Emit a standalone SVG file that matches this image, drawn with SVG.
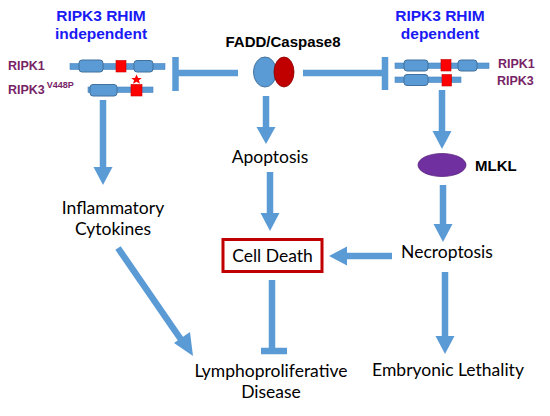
<svg xmlns="http://www.w3.org/2000/svg" width="550" height="416" viewBox="0 0 550 416">
<defs>
<style>
.title{font-family:"Liberation Sans",Arial,sans-serif;font-weight:bold;font-size:15.5px;fill:#1A1AF5;text-anchor:middle}
.plabel{font-family:"Liberation Sans",Arial,sans-serif;font-weight:bold;font-size:12.5px;fill:#772466}
.bold{font-family:"Liberation Sans",Arial,sans-serif;font-weight:bold;font-size:15px;fill:#000}
.body{font-family:Lato,"Open Sans",sans-serif;font-size:17.5px;fill:#000;text-anchor:middle}
.bar{fill:#5B9BD5;stroke:#4A86BE;stroke-width:0.6}
.dom{fill:#5B9BD5;stroke:#41719C;stroke-width:1}
.rhim{fill:#FF0000;stroke:#C00000;stroke-width:0.6}
.conn{stroke:#5B9BD5;stroke-width:6.5;fill:none}
.head{fill:#5B9BD5}
</style>
</defs>

<g id="title-independent">
<text class="title" x="101" y="21">RIPK3 RHIM</text>
<text class="title" x="101" y="38.5">independent</text>
</g>

<g id="title-dependent">
<text class="title" x="440" y="21">RIPK3 RHIM</text>
<text class="title" x="440" y="38.5">dependent</text>
</g>

<g id="proteins-independent">
<text class="plabel" x="8" y="70">RIPK1</text>
<text class="plabel" x="8" y="94">RIPK3<tspan font-size="9" dy="-6" dx="2">V448P</tspan></text>
<rect class="bar" x="70" y="63.5" width="95" height="6"/>
<rect class="dom" x="79" y="60" width="24" height="12" rx="3"/>
<rect class="rhim" x="116" y="60.5" width="10" height="11.5"/>
<rect class="dom" x="134" y="60.5" width="19" height="11.5" rx="3"/>
<rect class="bar" x="88" y="87" width="65" height="5.5"/>
<rect class="dom" x="90" y="84.5" width="27" height="11.5" rx="3"/>
<rect class="rhim" x="131" y="84.5" width="11" height="11.5"/>
<polygon fill="#FF0000" points="136.5,74.5 138.1,78 141.8,78 138.9,80.3 140,83.8 136.5,81.8 133,83.8 134.1,80.3 131.2,78 134.9,78"/>
</g>

<g id="proteins-dependent">
<rect class="bar" x="395" y="63" width="94" height="5.5"/>
<rect class="dom" x="404" y="60" width="24" height="11" rx="3"/>
<rect class="rhim" x="441" y="59.5" width="10" height="11.5"/>
<rect class="dom" x="458" y="60" width="19" height="11" rx="3"/>
<rect class="bar" x="395" y="77" width="66" height="5.5"/>
<rect class="dom" x="404" y="74.5" width="24" height="11" rx="3"/>
<rect class="rhim" x="442" y="74.5" width="9.5" height="11.5"/>
<text class="plabel" x="498" y="68">RIPK1</text>
<text class="plabel" x="497" y="85">RIPK3</text>
</g>

<g id="fadd-caspase8">
<text class="bold" x="283" y="47" text-anchor="middle">FADD/Caspase8</text>
<ellipse cx="265" cy="72" rx="11.5" ry="15" fill="#5B9BD5" stroke="#41719C" stroke-width="1"/>
<ellipse cx="284" cy="72" rx="10" ry="15" fill="#C00000" stroke="#8B0000" stroke-width="0.8"/>
</g>

<g id="mlkl">
<ellipse cx="442" cy="165" rx="24" ry="11.5" fill="#7030A0" stroke="#5A2680" stroke-width="0.8"/>
<text class="bold" x="475" y="171">MLKL</text>
</g>

<g id="apoptosis"><text class="body" x="270" y="163">Apoptosis</text></g>
<g id="inflammatory-cytokines">
<text class="body" x="113" y="214">Inflammatory</text>
<text class="body" x="113" y="235">Cytokines</text>
</g>
<g id="cell-death">
<rect x="223" y="239.5" width="99" height="32" fill="#fff" stroke="#C00000" stroke-width="3"/>
<text class="body" x="272.5" y="262">Cell Death</text>
</g>
<g id="necroptosis"><text class="body" x="447" y="258">Necroptosis</text></g>
<g id="lymphoproliferative-disease">
<text class="body" x="271" y="377">Lymphoproliferative</text>
<text class="body" x="271" y="398">Disease</text>
</g>
<g id="embryonic-lethality"><text class="body" x="448" y="376">Embryonic Lethality</text></g>

<g id="connectors">
<line class="conn" x1="238" y1="73" x2="177" y2="73"/>
<line class="conn" x1="175.5" y1="57" x2="175.5" y2="91"/>
<line class="conn" x1="303" y1="73" x2="384" y2="73"/>
<line class="conn" x1="385" y1="57" x2="385" y2="90"/>
<line class="conn" x1="103" y1="100" x2="103" y2="168"/>
<polygon class="head" points="93.5,167 112.5,167 103,185"/>
<line class="conn" x1="266" y1="96" x2="266" y2="128"/>
<polygon class="head" points="256.5,127 275.5,127 266,144"/>
<line class="conn" x1="270" y1="172" x2="270" y2="214"/>
<polygon class="head" points="260.5,213 279.5,213 270,231"/>
<line class="conn" x1="442" y1="90" x2="442" y2="132"/>
<polygon class="head" points="432.5,131 451.5,131 442,149"/>
<line class="conn" x1="443" y1="185" x2="443" y2="225"/>
<polygon class="head" points="433.5,224 452.5,224 443,242"/>
<line class="conn" x1="392" y1="256" x2="346" y2="256"/>
<polygon class="head" points="347,246.5 347,265.5 329,256"/>
<line class="conn" x1="445" y1="272" x2="445" y2="337"/>
<polygon class="head" points="435.5,336 454.5,336 445,354"/>
<line class="conn" x1="118" y1="248" x2="182" y2="341"/>
<polygon class="head" points="174,343 190,332 193,356"/>
<line class="conn" x1="272" y1="280" x2="272" y2="351"/>
<line class="conn" x1="261" y1="351" x2="287" y2="351"/>
</g>
</svg>
